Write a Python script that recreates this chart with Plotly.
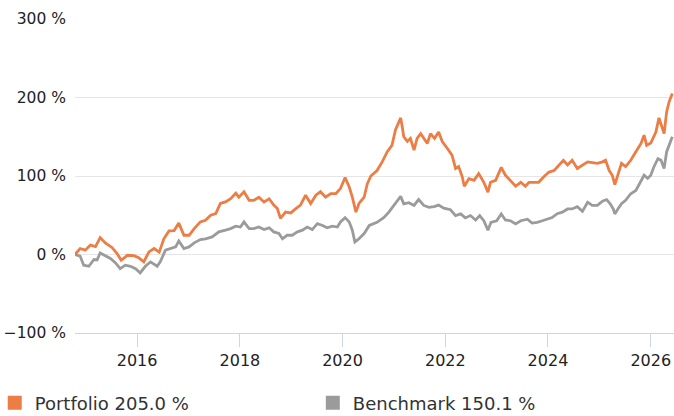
import pandas as pd
import plotly.graph_objects as go

# ---- data (decimal years, cumulative performance in %) ----
portfolio_years = [
    2014.79, 2014.89, 2014.99, 2015.09, 2015.19, 2015.28, 2015.38, 2015.51, 2015.61, 2015.69,
    2015.81, 2015.94, 2016.03, 2016.13, 2016.23, 2016.33, 2016.43, 2016.52, 2016.62, 2016.72,
    2016.81, 2016.91, 2017.01, 2017.11, 2017.23, 2017.33, 2017.43, 2017.53, 2017.62, 2017.72,
    2017.82, 2017.92, 2017.98, 2018.08, 2018.18, 2018.27, 2018.37, 2018.47, 2018.57, 2018.66,
    2018.73, 2018.79, 2018.89, 2018.99, 2019.09, 2019.18, 2019.28, 2019.38, 2019.48, 2019.57,
    2019.67, 2019.77, 2019.87, 2019.96, 2020.05, 2020.13, 2020.19, 2020.26, 2020.32, 2020.42,
    2020.48, 2020.55, 2020.67, 2020.77, 2020.87, 2020.96, 2021.03, 2021.09, 2021.13, 2021.16,
    2021.19, 2021.26, 2021.32, 2021.39, 2021.45, 2021.52, 2021.58, 2021.65, 2021.71, 2021.79,
    2021.87, 2021.94, 2022.04, 2022.13, 2022.20, 2022.26, 2022.33, 2022.37, 2022.46, 2022.56,
    2022.65, 2022.75, 2022.83, 2022.88, 2022.98, 2023.09, 2023.17, 2023.27, 2023.37, 2023.47,
    2023.56, 2023.63, 2023.73, 2023.82, 2023.92, 2024.02, 2024.12, 2024.21, 2024.30, 2024.38,
    2024.47, 2024.57, 2024.67, 2024.77, 2024.86, 2024.96, 2025.06, 2025.12, 2025.19, 2025.25,
    2025.30, 2025.36, 2025.43, 2025.51, 2025.61, 2025.71, 2025.81, 2025.87, 2025.92, 2026.00,
    2026.10, 2026.16, 2026.21, 2026.26, 2026.31, 2026.36, 2026.42,
]
portfolio_values = [
    0, 7.6, 5.5, 12, 10, 21.6, 14.8, 9, 1.3, -7.3,
    -1, -1.5, -4, -9.4, 3.3, 7.6, 3, 20, 30, 30.5,
    40, 24.5, 24.5, 33, 41.5, 43.6, 50, 52, 65, 67,
    71, 78, 73, 80, 69, 69, 73, 67, 71, 63,
    58.5, 46, 54, 53, 58.5, 63, 75.5, 65, 75.5, 80,
    73, 77.6, 77.6, 84, 98, 86, 73, 54, 65, 73,
    90, 100, 107, 118, 131, 139, 159, 169, 174, 163,
    150, 144, 148, 133, 148, 154, 148, 141.5, 154, 148,
    156, 144, 135, 126.5, 109.5, 112, 99, 87, 96.7, 94.5,
    103, 92, 79.5, 92, 94.5, 111, 101, 94.5, 87, 92,
    87, 92, 92, 92, 99, 105, 107, 114, 120, 114,
    120, 109.5, 114, 118, 117, 116, 118, 120, 107, 101,
    89, 103, 116, 112, 120, 131, 141.5, 152, 139, 142,
    156, 174, 163, 154, 182, 195, 205.0,
]

benchmark_years = [
    2014.79, 2014.89, 2014.96, 2015.06, 2015.16, 2015.22, 2015.28, 2015.38, 2015.48, 2015.58,
    2015.67, 2015.77, 2015.87, 2015.97, 2016.06, 2016.16, 2016.26, 2016.39, 2016.45, 2016.55,
    2016.65, 2016.75, 2016.81, 2016.91, 2017.01, 2017.11, 2017.23, 2017.33, 2017.46, 2017.59,
    2017.72, 2017.82, 2017.92, 2018.01, 2018.08, 2018.18, 2018.27, 2018.37, 2018.47, 2018.57,
    2018.66, 2018.76, 2018.83, 2018.92, 2019.02, 2019.12, 2019.22, 2019.31, 2019.41, 2019.51,
    2019.61, 2019.70, 2019.80, 2019.90, 2019.96, 2020.05, 2020.13, 2020.19, 2020.24, 2020.32,
    2020.42, 2020.52, 2020.67, 2020.80, 2020.90, 2021.00, 2021.06, 2021.13, 2021.19, 2021.29,
    2021.39, 2021.48, 2021.58, 2021.68, 2021.78, 2021.87, 2021.97, 2022.10, 2022.20, 2022.30,
    2022.39, 2022.49, 2022.59, 2022.67, 2022.75, 2022.83, 2022.89, 2023.00, 2023.09, 2023.17,
    2023.27, 2023.37, 2023.47, 2023.60, 2023.69, 2023.79, 2023.89, 2023.99, 2024.08, 2024.18,
    2024.28, 2024.38, 2024.47, 2024.57, 2024.67, 2024.77, 2024.86, 2024.96, 2025.06, 2025.14,
    2025.21, 2025.27, 2025.30, 2025.36, 2025.43, 2025.51, 2025.61, 2025.71, 2025.81, 2025.87,
    2025.94, 2026.00, 2026.06, 2026.14, 2026.20, 2026.26, 2026.31, 2026.38, 2026.42,
]
benchmark_values = [
    0, -2, -13.6, -15, -6.4, -7, 2, -1, -5, -10.7,
    -18, -13.6, -15, -18, -23.4, -15, -9.4, -15, -9.4, 5.5,
    7.6, 9.7, 17.3, 7.6, 9.7, 14.8, 19, 20, 22.4, 28.8,
    31, 33, 36, 35, 41.5, 33, 33, 35, 31.8, 34,
    28.8, 26.7, 20, 24.5, 24.5, 28.8, 31, 35, 31.8, 39.4,
    37, 34, 36, 35, 41.5, 47, 41.5, 31, 16, 20,
    26.7, 37, 41, 47, 54, 62.5, 69, 74, 64.6, 66,
    62.5, 70, 62.5, 60, 61, 63, 59, 57, 49.6, 51.7,
    46.6, 49.6, 44, 49.6, 43, 31, 41, 43, 51.7, 44,
    43, 39, 43, 45, 40, 41, 43, 45, 47, 52,
    54, 58, 58, 61, 55, 66.6, 62.5, 62.5, 68, 70,
    64.6, 58, 51.7, 58, 64.6, 69, 77.4, 81.6, 94.5, 101,
    97, 101, 111.5, 122, 120, 109.5, 131, 143.6, 150.1,
]

series_names = ["Portfolio", "Benchmark"]
series_colors = ["#EC7D44", "#9B9B9B"]
y_ticks = [-100, 0, 100, 200, 300]
y_tick_labels = ["\u2212100 %", "0 %", "100 %", "200 %", "300 %"]


def to_date(y):
    year = int(y)
    start = pd.Timestamp(year=year, month=1, day=1)
    end = pd.Timestamp(year=year + 1, month=1, day=1)
    return start + (end - start) * (y - year)


p_dates = [to_date(y) for y in portfolio_years]
b_dates = [to_date(y) for y in benchmark_years]

fig = go.Figure()
for name, dates, vals, col in [
    (series_names[1], b_dates, benchmark_values, series_colors[1]),
    (series_names[0], p_dates, portfolio_values, series_colors[0]),
]:
    fig.add_trace(go.Scatter(x=dates, y=vals, mode="lines", name=name,
                             line=dict(color=col, width=2.8), showlegend=False))

# legend entries (square markers), one legend box per series
for name, vals, col, lg in [(series_names[0], portfolio_values, series_colors[0], "legend"),
                            (series_names[1], benchmark_values, series_colors[1], "legend2")]:
    fig.add_trace(go.Scatter(x=[None], y=[None], mode="markers",
                             name=f"{name} {vals[-1]:.1f} %", legend=lg,
                             marker=dict(symbol="square", size=14, color=col)))

x_start = p_dates[0]
x_end = p_dates[-1] + pd.Timedelta(days=12)

legend_common = dict(orientation="h", xref="paper", yref="paper",
                     y=-0.223, xanchor="left", yanchor="middle",
                     font=dict(size=18, color="#333333"), itemwidth=30)

fig.update_layout(
    width=674, height=416,
    margin=dict(l=75, r=0, t=19, b=83, autoexpand=False),
    paper_bgcolor="white", plot_bgcolor="white",
    font=dict(family="DejaVu Sans", size=16, color="#222222"),
    showlegend=True,
    legend=dict(x=-0.134, **legend_common),
    legend2=dict(x=0.397, **legend_common),
)
fig.update_xaxes(
    type="date", range=[x_start, x_end], automargin=False,
    tick0="2016-01-01", dtick="M24", tickformat="%Y",
    showgrid=False, showline=True, linecolor="#ccd6eb", linewidth=1,
    ticks="outside", ticklen=13, tickcolor="#ccd6eb", tickwidth=1,
    tickfont=dict(size=16, color="#222222"),
    zeroline=False,
)
fig.update_yaxes(
    range=[-100, 300], tickvals=y_ticks, ticktext=y_tick_labels, automargin=False,
    showgrid=True, gridcolor="#e6e6e6", gridwidth=1,
    zeroline=False, showline=False, ticklabelstandoff=8,
    tickfont=dict(size=15.5, color="#222222"),
)

fig.write_html("out.html", config={"displayModeBar": False},
               post_script="document.body.style.margin='0';")
